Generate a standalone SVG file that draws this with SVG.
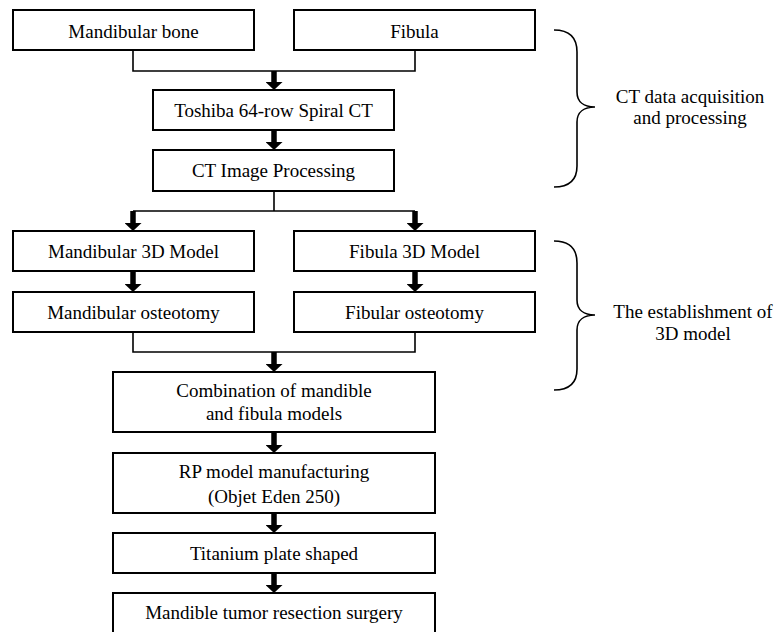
<svg xmlns="http://www.w3.org/2000/svg" width="780" height="632" viewBox="0 0 780 632">
  <style>
    .box { fill: #ffffff; stroke: #000000; stroke-width: 2; }
    .lbl { font-family: "Liberation Serif", "Times New Roman", serif; font-size: 19px; fill: #000000; text-anchor: middle; }
    .conn { fill: none; stroke: #000000; stroke-width: 1.6; }
    .arr { fill: none; stroke: #000000; stroke-width: 5.5; marker-end: url(#head); }
    .brace { fill: none; stroke: #000000; stroke-width: 1.6; }
  </style>
  <defs>
    <marker id="head" markerUnits="userSpaceOnUse" viewBox="0 0 8 17" refX="0" refY="8.5" markerWidth="8" markerHeight="17" orient="auto">
      <path d="M0,0 L8,8.5 L0,17 Z" fill="#000000"/>
    </marker>
  </defs>
  <rect x="0" y="0" width="780" height="632" fill="#ffffff"/>

  <g id="connectors">
    <path class="conn" d="M133,50 V71 H415 V50"/>
    <line class="arr" x1="274" y1="71" x2="274" y2="82"/>
    <line class="arr" x1="274" y1="130" x2="274" y2="142"/>
    <path class="conn" d="M274,191 V211 M133,211 H415"/>
    <line class="arr" x1="133" y1="211" x2="133" y2="223"/>
    <line class="arr" x1="415" y1="211" x2="415" y2="223"/>
    <line class="arr" x1="133" y1="271" x2="133" y2="284"/>
    <line class="arr" x1="415" y1="271" x2="415" y2="284"/>
    <path class="conn" d="M133,332 V352 H415 V332"/>
    <line class="arr" x1="274" y1="352" x2="274" y2="364"/>
    <line class="arr" x1="274" y1="432" x2="274" y2="445"/>
    <line class="arr" x1="274" y1="513" x2="274" y2="525"/>
    <line class="arr" x1="274" y1="573" x2="274" y2="585"/>
  </g>

  <g id="n-mandibular-bone">
    <rect class="box" x="13" y="10" width="241" height="40"/>
    <text class="lbl" x="133.5" y="37.5">Mandibular bone</text>
  </g>
  <g id="n-fibula">
    <rect class="box" x="294" y="10" width="241" height="40"/>
    <text class="lbl" x="414.5" y="37.5">Fibula</text>
  </g>
  <g id="n-toshiba">
    <rect class="box" x="153" y="90" width="241" height="40"/>
    <text class="lbl" x="273.5" y="116.5">Toshiba 64-row Spiral CT</text>
  </g>
  <g id="n-ct-image">
    <rect class="box" x="153" y="150" width="241" height="41"/>
    <text class="lbl" x="273.5" y="177">CT Image Processing</text>
  </g>
  <g id="n-mandibular-3d">
    <rect class="box" x="13" y="231" width="241" height="40"/>
    <text class="lbl" x="133.5" y="258">Mandibular 3D Model</text>
  </g>
  <g id="n-fibula-3d">
    <rect class="box" x="294" y="231" width="241" height="40"/>
    <text class="lbl" x="414.5" y="258">Fibula 3D Model</text>
  </g>
  <g id="n-mandibular-osteotomy">
    <rect class="box" x="13" y="292" width="241" height="40"/>
    <text class="lbl" x="133.5" y="318.5">Mandibular osteotomy</text>
  </g>
  <g id="n-fibular-osteotomy">
    <rect class="box" x="294" y="292" width="241" height="40"/>
    <text class="lbl" x="414.5" y="318.5">Fibular osteotomy</text>
  </g>
  <g id="n-combination">
    <rect class="box" x="113" y="372" width="322" height="60"/>
    <text class="lbl" x="274" y="396.5">Combination of mandible</text>
    <text class="lbl" x="274" y="420">and fibula models</text>
  </g>
  <g id="n-rp-model">
    <rect class="box" x="113" y="453" width="322" height="60"/>
    <text class="lbl" x="274" y="478">RP model manufacturing</text>
    <text class="lbl" x="274" y="503">(Objet Eden 250)</text>
  </g>
  <g id="n-titanium">
    <rect class="box" x="113" y="533" width="322" height="40"/>
    <text class="lbl" x="274" y="560">Titanium plate shaped</text>
  </g>
  <g id="n-surgery">
    <rect class="box" x="113" y="593" width="322" height="46"/>
    <text class="lbl" x="274" y="619">Mandible tumor resection surgery</text>
  </g>

  <g id="brace-ct">
    <path class="brace" d="M554,30 C570,30 577,38 577,52 L577,92 C577,102 584,107 595,107 C584,107 577,112 577,122 L577,166 C577,180 570,187 554,187"/>
    <text class="lbl" x="690" y="103">CT data acquisition</text>
    <text class="lbl" x="690" y="124">and processing</text>
  </g>
  <g id="brace-3d">
    <path class="brace" d="M554,241 C570,241 577,249 577,263 L577,300 C577,310 584,315 595,315 C584,315 577,320 577,330 L577,369 C577,383 570,390 554,390"/>
    <text class="lbl" x="693" y="318">The establishment of</text>
    <text class="lbl" x="693" y="340">3D model</text>
  </g>
</svg>
